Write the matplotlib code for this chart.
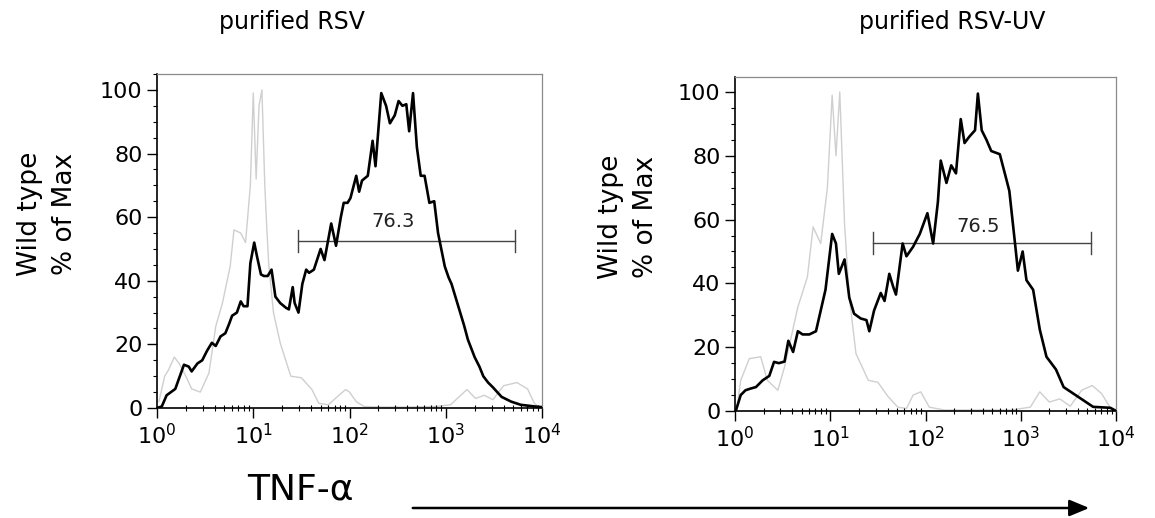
import matplotlib
matplotlib.use("Agg")
import matplotlib.pyplot as plt
from matplotlib.ticker import MultipleLocator, LogLocator, NullFormatter
import numpy as np

# panel titles / labels
titles = ["purified RSV", "purified RSV-UV"]
gate_labels = ["76.3", "76.5"]
ylabel_txt = "Wild type\n% of Max"
xlabel_txt = "TNF-\u03b1"

# gate (log10 start, log10 end, height)
gate_left = [1.47, 3.72, 52.5]
gate_right = [1.45, 3.74, 52.7]

# black histogram, purified RSV (log10 TNF, % of max)
rsv_x = [0.0, 0.05, 0.10, 0.19, 0.28, 0.33, 0.36, 0.42, 0.47, 0.52, 0.57, 0.61, 0.66, 0.71, 0.75,
         0.78, 0.83, 0.87, 0.90, 0.94, 0.97, 1.01, 1.04, 1.08, 1.11, 1.15, 1.19, 1.23, 1.28, 1.34,
         1.37, 1.41, 1.43, 1.47, 1.51, 1.55, 1.58, 1.63, 1.70, 1.74, 1.81, 1.86, 1.91, 1.94, 1.98,
         2.01, 2.07, 2.10, 2.13, 2.19, 2.24, 2.27, 2.33, 2.38, 2.42, 2.47, 2.51, 2.55, 2.59, 2.62,
         2.66, 2.70, 2.74, 2.78, 2.83, 2.88, 2.92, 2.99, 3.03, 3.06, 3.10, 3.14, 3.19, 3.23, 3.30,
         3.35, 3.39, 3.44, 3.49, 3.58, 3.68, 3.78, 3.92, 3.99]
rsv_y = [0.0, 0.5, 4, 6, 13.6, 13, 11.5, 14, 15, 18, 20.5, 19.5, 22.5, 23.5, 26.5,
         29, 30, 33.5, 32, 32, 45.5, 52, 47.5, 42, 41.5, 41.5, 43.5, 35, 33, 31.5,
         31, 38, 33, 30, 39, 43.5, 42.5, 43.5, 50, 46.5, 58, 51, 60, 64.5, 64.5,
         66, 73, 68, 71.5, 73, 84, 76, 99, 95, 89.5, 92, 96.5, 95, 95.5, 87,
         99, 82, 73, 73, 64.5, 65, 55, 44.5, 41, 39, 35, 31, 26, 21.5, 16,
         13, 10, 8, 6.5, 3.5, 2, 1, 0.5, 0.3]

# grey histogram (control), purified RSV
rsv_ctl_x = [0.02, 0.08, 0.12, 0.18, 0.23, 0.30, 0.36, 0.45, 0.54, 0.61, 0.68, 0.76, 0.80, 0.87,
             0.92, 0.97, 1.00, 1.03, 1.06, 1.09, 1.12, 1.14, 1.16, 1.21, 1.28, 1.39, 1.50, 1.61,
             1.68, 1.78, 1.89, 1.96, 2.00, 2.07, 2.15, 2.3, 2.6, 2.9, 3.05, 3.12, 3.22, 3.31,
             3.40, 3.49, 3.60, 3.74, 3.85, 3.92, 3.96]
rsv_ctl_y = [2, 10, 12, 16, 14, 10, 6, 5, 11, 25.6, 33, 44.5, 56, 55, 52, 70, 99, 72, 95, 100, 70,
             57, 45.5, 30, 20.5, 10, 9.5, 5.8, 1.5, 1, 4, 5.8, 5, 2, 0.5, 0.3, 0.3, 0.5, 1,
             3, 5.8, 3, 4, 2.6, 7, 8, 6, 1.5, 0.5]

# black histogram, purified RSV-UV
uv_x = [0.01, 0.06, 0.11, 0.16, 0.22, 0.29, 0.36, 0.41, 0.46, 0.52, 0.56, 0.61, 0.66, 0.71, 0.78,
        0.85, 0.90, 0.95, 0.99, 1.02, 1.06, 1.09, 1.15, 1.20, 1.25, 1.32, 1.38, 1.41, 1.46, 1.53,
        1.57, 1.62, 1.66, 1.69, 1.76, 1.80, 1.87, 1.94, 2.02, 2.08, 2.13, 2.16, 2.22, 2.27, 2.32,
        2.37, 2.41, 2.46, 2.52, 2.55, 2.59, 2.64, 2.69, 2.78, 2.85, 2.88, 2.94, 2.97, 3.02, 3.06,
        3.13, 3.20, 3.27, 3.32, 3.37, 3.45, 3.55, 3.66, 3.76, 3.94, 3.99]
uv_y = [0.2, 5, 6.5, 7, 7.5, 9.6, 11, 15.4, 15, 15.5, 22, 18.5, 25, 24, 24,
        25, 31.5, 38, 48, 55.5, 52.5, 43, 47.5, 35.5, 30.5, 29, 28.5, 25, 31.5, 37,
        34.5, 43, 39, 36.5, 52.5, 48.5, 51.5, 55.5, 62, 52.5, 65.5, 78.5, 71.5, 77, 74.5,
        91.5, 84, 86, 88, 99.5, 88, 85, 81.5, 80.5, 72.5, 69, 52.5, 44, 50, 41,
        38, 25.5, 17, 15, 13, 7.5, 5.5, 3.3, 1.3, 1, 0.2]

# grey histogram (control), purified RSV-UV
uv_ctl_x = [0.03, 0.06, 0.15, 0.27, 0.34, 0.45, 0.52, 0.66, 0.76, 0.82, 0.90, 0.97, 1.02, 1.06,
            1.10, 1.15, 1.20, 1.27, 1.40, 1.50, 1.61, 1.71, 1.80, 1.87, 1.95, 2.04, 2.2, 2.5,
            2.9, 3.1, 3.2, 3.3, 3.41, 3.52, 3.64, 3.75, 3.85, 3.94, 3.99]
uv_ctl_y = [3, 9.6, 16.4, 17, 9.6, 6.5, 13.8, 32.6, 42, 57.7, 52.5, 70, 99, 80, 100, 58.7, 35.7,
            18, 9.6, 9, 4.4, 1.2, 0.8, 5, 6, 1.2, 0.3, 0.3, 0.3, 1.2, 6, 2.8, 3.8, 1.5,
            6.5, 8, 5.4, 1, 0.3]

panels = [
    dict(title=titles[0], bx=rsv_x, by=rsv_y, gx=rsv_ctl_x, gy=rsv_ctl_y, gate=gate_left,
         glab=gate_labels[0], lab_pos=(2.45, 58.5), rect=[157 / 1155, 110 / 518, 385 / 1155, 334 / 518],
         ytop=105.0, title_x=292 / 1155, ylab_x=-0.285),
    dict(title=titles[1], bx=uv_x, by=uv_y, gx=uv_ctl_x, gy=uv_ctl_y, gate=gate_right,
         glab=gate_labels[1], lab_pos=(2.55, 57.7), rect=[735 / 1155, 107 / 518, 381 / 1155, 334 / 518],
         ytop=104.7, title_x=952 / 1155, ylab_x=-0.28),
]

fig = plt.figure(figsize=(11.55, 5.18), dpi=100)

for p in panels:
    ax = fig.add_axes(p["rect"])
    ax.plot(10 ** np.array(p["gx"]), p["gy"], color="#cfcfcf", lw=1.0, zorder=1)
    ax.plot(10 ** np.array(p["bx"]), p["by"], color="black", lw=1.9, zorder=3)

    g0, g1, gh = p["gate"]
    ax.plot([10 ** g0, 10 ** g1], [gh, gh], color="#444444", lw=1.0, zorder=2)
    for gx in (g0, g1):
        ax.plot([10 ** gx, 10 ** gx], [gh - 3.5, gh + 3.5], color="#444444", lw=1.0, zorder=2)
    ax.text(10 ** p["lab_pos"][0], p["lab_pos"][1], p["glab"], ha="center", va="center",
            fontsize=14, color="#222222")

    ax.set_xscale("log")
    ax.set_xlim(1, 1e4)
    ax.set_ylim(0, p["ytop"])
    ax.set_yticks([0, 20, 40, 60, 80, 100])
    ax.yaxis.set_minor_locator(MultipleLocator(5))
    ax.xaxis.set_major_locator(LogLocator(base=10, numticks=10))
    ax.xaxis.set_minor_locator(LogLocator(base=10, subs=np.arange(2, 10), numticks=10))
    ax.xaxis.set_minor_formatter(NullFormatter())
    ax.tick_params(axis="both", which="major", labelsize=16, direction="out", length=7, width=1.0)
    ax.tick_params(axis="y", which="minor", direction="out", length=3, width=0.8)
    ax.tick_params(axis="x", which="minor", direction="inout", length=4, width=0.8)
    ax.tick_params(axis="x", which="major", pad=4)

    for s in ("left", "bottom"):
        ax.spines[s].set_linewidth(1.2)
    for s in ("top", "right"):
        ax.spines[s].set_linewidth(0.9)
        ax.spines[s].set_color("#8a8a8a")

    ax.text(p["ylab_x"], 0.58, ylabel_txt, transform=ax.transAxes, rotation=90, ha="center",
            va="center", fontsize=19, linespacing=1.45, multialignment="center")

    fig.text(p["title_x"], 1 - 22 / 518, p["title"], ha="center", va="center", fontsize=17)

fig.text(300 / 1155, 1 - 490 / 518, xlabel_txt, ha="center", va="center", fontsize=26)
fig.patches.append(matplotlib.patches.FancyArrowPatch(
    (410 / 1155, 1 - 508 / 518), (1092 / 1155, 1 - 508 / 518), transform=fig.transFigure,
    arrowstyle="-|>,head_length=12,head_width=5", mutation_scale=1, lw=1.8, color="black"))

plt.savefig("out.png", dpi=100)
